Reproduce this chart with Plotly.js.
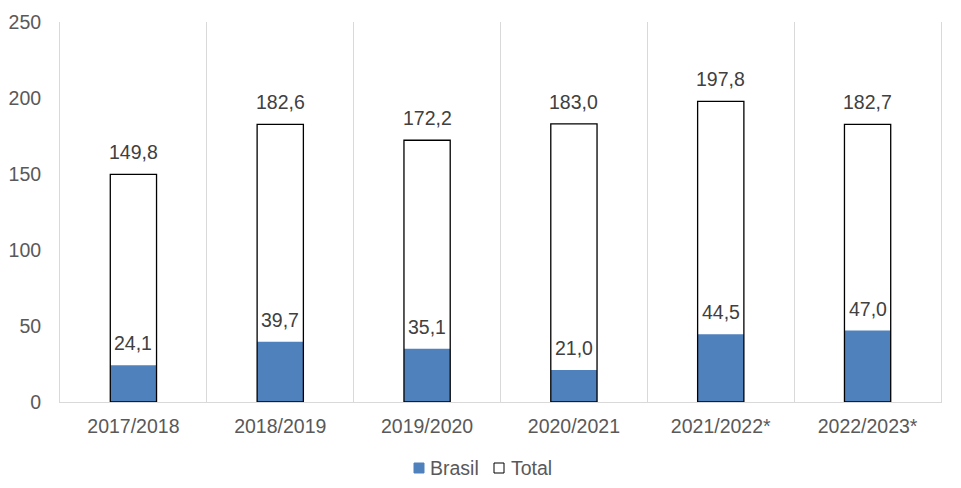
<!DOCTYPE html>
<html>
<head>
<meta charset="utf-8">
<script src="https://cdn.plot.ly/plotly-3.0.1.min.js"></script>
<style>html,body{margin:0;padding:0;background:#fff;}#chart{width:961px;height:488px;}</style>
</head>
<body>
<div id="chart"></div>
<script>
const categories = ["2017/2018", "2018/2019", "2019/2020", "2020/2021", "2021/2022*", "2022/2023*"];
const brasil = [24.1, 39.7, 35.1, 21.0, 44.5, 47.0];
const total = [149.8, 182.6, 172.2, 183.0, 197.8, 182.7];
const yTicks = [0, 50, 100, 150, 200, 250];
const seriesNames = ["Brasil", "Total"];

const fmt = v => v.toFixed(1).replace('.', ',');
const FONT = "Liberation Sans, Arial, sans-serif";
const BLUE = '#4F81BD';

const traces = [
  {
    type: 'bar', name: seriesNames[0], x: categories, y: brasil,
    marker: {color: BLUE, line: {width: 0}},
    width: 0.315, hoverinfo: 'skip'
  },
  {
    type: 'bar', name: seriesNames[1], x: categories, y: total,
    marker: {color: 'rgba(255,255,255,0)', line: {color: '#000000', width: 1.3}},
    width: 0.315, hoverinfo: 'skip'
  }
];

const annotations = [];
function addLabels(vals) {
  vals.forEach((v, i) => {
    annotations.push({
      x: categories[i], y: v, xref: 'x', yref: 'y',
      text: fmt(v), showarrow: false, yanchor: 'bottom', yshift: 9,
      font: {family: FONT, size: 19.5, color: '#404040'}
    });
  });
}
addLabels(brasil);
addLabels(total);

// custom legend (paper coordinates)
const plotW = 961 - 60 - 20, plotH = 488 - 22 - 86;
const px = x => (x - 60) / plotW;
const legY = -(468 - 402) / plotH;
const legendItems = [
  {sym: 414, text: 428, fill: BLUE, line: BLUE},
  {sym: 494, text: 509, fill: '#ffffff', line: '#000000'}
];
const shapes = [];
legendItems.forEach((it, i) => {
  shapes.push({
    type: 'rect', xref: 'paper', yref: 'paper',
    xsizemode: 'pixel', ysizemode: 'pixel',
    xanchor: px(it.sym), yanchor: legY,
    x0: 0, x1: 10, y0: -5, y1: 5,
    fillcolor: it.fill, line: {color: it.line, width: 1}
  });
  annotations.push({
    xref: 'paper', yref: 'paper', x: px(it.text), y: legY,
    xanchor: 'left', yanchor: 'middle', showarrow: false,
    text: seriesNames[i], font: {family: FONT, size: 19.5, color: '#595959'}
  });
});

const layout = {
  width: 961, height: 488,
  margin: {l: 60, r: 20, t: 22, b: 86, autoexpand: false},
  paper_bgcolor: '#ffffff', plot_bgcolor: '#ffffff',
  barmode: 'overlay',
  font: {family: FONT, size: 19.5, color: '#595959'},
  xaxis: {
    type: 'category', tickson: 'boundaries', showgrid: true, gridcolor: '#d9d9d9', gridwidth: 1,
    showline: true, linecolor: '#d9d9d9', linewidth: 1,
    ticks: '', ticklabelstandoff: 7,
    tickfont: {family: FONT, size: 19.5, color: '#595959'}
  },
  yaxis: {
    range: [0, 250], tickvals: yTicks, ticktext: yTicks.map(String),
    showgrid: false, zeroline: false,
    showline: true, mirror: true, linecolor: '#d9d9d9', linewidth: 1,
    ticks: 'outside', ticklen: 14, tickcolor: 'rgba(0,0,0,0)',
    tickfont: {family: FONT, size: 19.5, color: '#595959'}
  },
  showlegend: false,
  shapes: shapes,
  annotations: annotations
};

Plotly.newPlot('chart', traces, layout, {displayModeBar: false, staticPlot: true});
</script>
</body>
</html>
